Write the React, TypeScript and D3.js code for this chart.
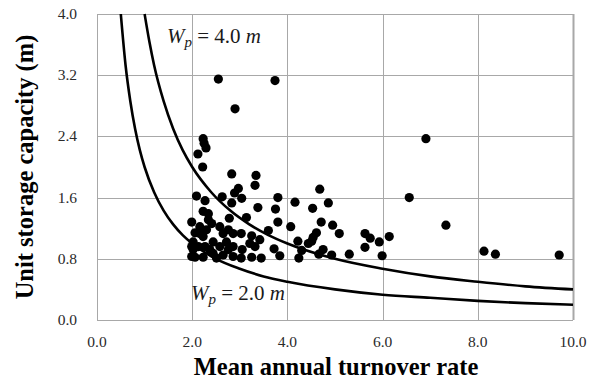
import React, { useEffect, useRef } from "react";
import * as d3 from "d3";

const WIDTH = 596;
const HEIGHT = 381;
const MARGIN_TOP = 14;
const MARGIN_RIGHT = 23;
const MARGIN_BOTTOM = 61;
const MARGIN_LEFT = 97;

const xTicks = [0, 2, 4, 6, 8, 10];
const yTicks = [0, 0.8, 1.6, 2.4, 3.2, 4.0];

// scatter: mean annual turnover rate vs unit storage capacity
const turnover = [
  2.55, 3.74, 2.9, 6.91, 2.23, 2.25, 2.29, 2.12, 2.22, 2.83, 3.34, 3.32, 2.97,
  2.89, 3.04, 2.09, 2.27, 2.63, 2.83, 3.8, 4.16, 4.68, 4.86, 4.53, 6.56, 7.33,
  3.38, 3.75, 3.8, 3.14, 2.78, 2.34, 2.34, 1.99, 2.23, 3.6, 4.07, 4.71, 4.95,
  5.09, 5.63, 5.74, 5.93, 6.14, 5.63, 5.99, 5.3, 4.93, 4.75, 4.66, 4.61, 4.54,
  4.51, 4.44, 4.22, 4.3, 4.24, 3.72, 3.84, 3.42, 3.25, 3.32, 3.25, 3.45, 3.05,
  3.03, 2.86, 3.21, 3.03, 8.13, 8.37, 9.71, 2.06, 2.02, 2.02, 2.06, 2.23, 2.27,
  2.23, 2.44, 2.44, 2.58, 2.65, 2.72, 2.76, 2.51, 2.41, 2.76, 2.86, 2.16, 2.16,
  2.3, 2.65, 2.58, 2.37, 2.13, 2.86, 1.99, 1.99,
];
const capacity = [
  3.15, 3.13, 2.76, 2.37, 2.37, 2.31, 2.25, 2.17, 2.0, 1.91, 1.89, 1.76, 1.72,
  1.66, 1.59, 1.62, 1.56, 1.61, 1.53, 1.6, 1.54, 1.71, 1.53, 1.46, 1.6, 1.24,
  1.47, 1.45, 1.28, 1.34, 1.33, 1.31, 1.39, 1.28, 1.42, 1.17, 1.22, 1.28, 1.24,
  1.13, 1.13, 1.07, 1.02, 1.09, 0.95, 0.84, 0.86, 0.85, 0.92, 0.86, 1.14, 1.08,
  1.03, 1.0, 1.03, 0.91, 0.81, 0.93, 0.84, 1.05, 1.1, 0.96, 0.82, 0.81, 0.92,
  0.81, 0.96, 1.0, 1.13, 0.9, 0.86, 0.85, 1.14, 1.02, 0.92, 0.82, 1.09, 0.96,
  0.82, 1.02, 0.87, 0.96, 0.85, 1.02, 0.92, 0.81, 1.26, 1.18, 1.13, 1.22, 1.13,
  1.18, 1.13, 1.22, 0.92, 0.96, 0.83, 0.96, 0.83,
];

// curve for Wp = 2.0 m
const wp2Rate = [0.5, 0.6, 0.7, 0.8, 0.9, 1.0, 1.2, 1.4, 1.6, 1.8, 2.0, 2.5, 3, 3.5, 4, 5, 6, 7, 8, 9, 10];
const wp2Cap = [4.0, 3.33, 2.86, 2.5, 2.22, 2.0, 1.67, 1.43, 1.25, 1.11, 1.0, 0.8, 0.67, 0.57, 0.5, 0.4, 0.33, 0.29, 0.25, 0.22, 0.2];
// curve for Wp = 4.0 m
const wp4Rate = [1.0, 1.1, 1.2, 1.4, 1.6, 1.8, 2.0, 2.4, 2.8, 3.2, 3.6, 4, 5, 6, 7, 8, 9, 10];
const wp4Cap = [4.0, 3.64, 3.33, 2.86, 2.5, 2.22, 2.0, 1.67, 1.43, 1.25, 1.11, 1.0, 0.8, 0.67, 0.57, 0.5, 0.44, 0.4];

const GRID = "#a8a8a8";
const SERIF = "'Liberation Serif', 'Times New Roman', serif";

export default function App() {
  const gGrid = useRef<SVGGElement>(null);
  const gCurves = useRef<SVGGElement>(null);
  const gDots = useRef<SVGGElement>(null);
  const gAxis = useRef<SVGGElement>(null);

  const x = d3.scaleLinear().domain([0, 10]).range([MARGIN_LEFT, WIDTH - MARGIN_RIGHT]);
  const y = d3.scaleLinear().domain([0, 4]).range([HEIGHT - MARGIN_BOTTOM, MARGIN_TOP]);

  useEffect(() => {
    // grid lines
    const grid = d3.select(gGrid.current);
    grid.selectAll("*").remove();
    grid
      .selectAll("line.h")
      .data(yTicks)
      .join("line")
      .attr("class", "h")
      .attr("x1", x(0))
      .attr("x2", x(10))
      .attr("y1", (d) => Math.round(y(d)) + 0.5)
      .attr("y2", (d) => Math.round(y(d)) + 0.5)
      .attr("stroke", GRID);
    grid
      .selectAll("line.v")
      .data(xTicks)
      .join("line")
      .attr("class", "v")
      .attr("x1", (d) => Math.round(x(d)) + 0.5)
      .attr("x2", (d) => Math.round(x(d)) + 0.5)
      .attr("y1", y(0))
      .attr("y2", y(4))
      .attr("stroke", GRID)
      .attr("stroke-width", (d) => (d === 10 ? 2 : 1));

    // Wp curves
    const line = d3
      .line<[number, number]>()
      .x((d) => x(d[0]))
      .y((d) => y(d[1]))
      .curve(d3.curveMonotoneX);
    const curves = [
      wp2Rate.map((r, i) => [r, wp2Cap[i]] as [number, number]),
      wp4Rate.map((r, i) => [r, wp4Cap[i]] as [number, number]),
    ];
    d3.select(gCurves.current)
      .selectAll("path")
      .data(curves)
      .join("path")
      .attr("d", (d) => line(d))
      .attr("fill", "none")
      .attr("stroke", "#000")
      .attr("stroke-width", 2.6);

    // scatter dots
    d3.select(gDots.current)
      .selectAll("circle")
      .data(turnover.map((t, i) => [t, capacity[i]]))
      .join("circle")
      .attr("cx", (d) => x(d[0]))
      .attr("cy", (d) => y(d[1]))
      .attr("r", 4.6)
      .attr("fill", "#000");

    // tick labels
    const ax = d3.select(gAxis.current);
    ax.selectAll("*").remove();
    ax.selectAll("text.x")
      .data(xTicks)
      .join("text")
      .attr("class", "x")
      .attr("x", (d) => x(d))
      .attr("y", HEIGHT - MARGIN_BOTTOM + 27)
      .attr("text-anchor", "middle")
      .text((d) => d3.format(".1f")(d));
    ax.selectAll("text.y")
      .data(yTicks)
      .join("text")
      .attr("class", "y")
      .attr("x", MARGIN_LEFT - 20)
      .attr("y", (d) => y(d) + 5)
      .attr("text-anchor", "end")
      .text((d) => d3.format(".1f")(d));
  }, []);

  return (
    <svg
      width={WIDTH}
      height={HEIGHT}
      style={{ position: "absolute", left: 0, top: 0, background: "#fff" }}
    >
      <g ref={gGrid}></g>
      <g ref={gCurves}></g>
      <g ref={gDots}></g>
      <g ref={gAxis} style={{ fontFamily: SERIF, fontSize: 15.5, fill: "#2a2a2a" }}></g>
      <g style={{ fontFamily: SERIF, fontSize: 21, fill: "#1a1a1a" }}>
        <text x={167} y={43}>
          <tspan fontStyle="italic">W</tspan>
          <tspan fontStyle="italic" fontSize={15} dy={4}>p</tspan>
          <tspan dy={-4}> = 4.0 </tspan>
          <tspan fontStyle="italic">m</tspan>
        </text>
        <text x={191} y={300}>
          <tspan fontStyle="italic">W</tspan>
          <tspan fontStyle="italic" fontSize={15} dy={4}>p</tspan>
          <tspan dy={-4}> = 2.0 </tspan>
          <tspan fontStyle="italic">m</tspan>
        </text>
      </g>
      <text
        x={336}
        y={375}
        textAnchor="middle"
        style={{ fontFamily: SERIF, fontSize: 24.5, fontWeight: "bold" }}
      >
        Mean annual turnover rate
      </text>
      <text
        transform={`translate(33, 167) rotate(-90)`}
        textAnchor="middle"
        style={{ fontFamily: SERIF, fontSize: 24.5, fontWeight: "bold" }}
      >
        Unit storage capacity (m)
      </text>
    </svg>
  );
}
